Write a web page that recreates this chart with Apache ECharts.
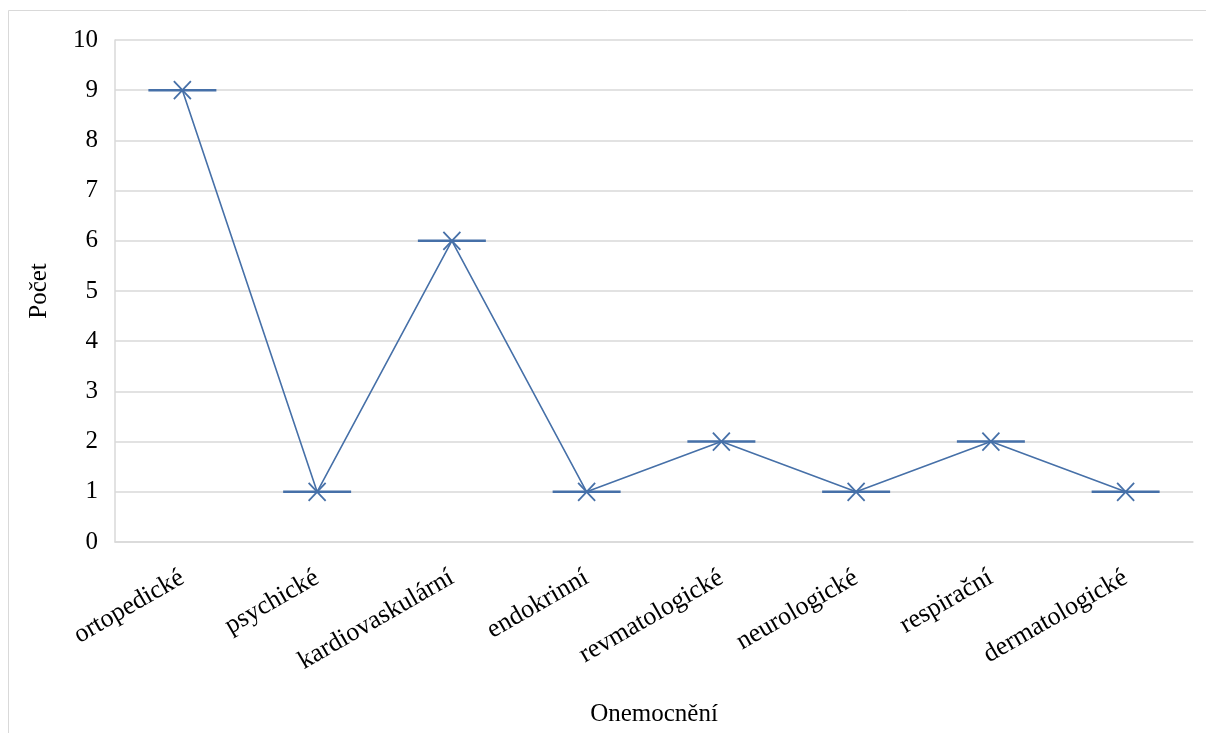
<!DOCTYPE html>
<html>
<head>
<meta charset="utf-8">
<script src="https://cdn.jsdelivr.net/npm/echarts@6/dist/echarts.min.js"></script>
<style>
  html, body { margin: 0; padding: 0; background: #fff; }
  #chart { width: 1206px; height: 733px; }
</style>
</head>
<body>
<div id="chart"></div>
<script>
// Počty onemocnění podle kategorie
const categories = ['ortopedické', 'psychické', 'kardiovaskulární', 'endokrinní',
                    'revmatologické', 'neurologické', 'respirační', 'dermatologické'];
const counts = [9, 1, 6, 1, 2, 1, 2, 1];
const yTicks = { min: 0, max: 10, interval: 1 };

const lineBlue = '#4670a8';
const gridGray = '#d9d9d9';
const font = '"Liberation Serif", "Times New Roman", serif';

const chart = echarts.init(document.getElementById('chart'), null, { renderer: 'canvas' });

// Značka bodu: vodorovná čárka přes křížek
function renderMarker(params, api) {
  const p = api.coord([api.value(0), api.value(1)]);
  const x = p[0], y = p[1];
  const half = 34, cx = 8.5, cy = 9;
  return {
    type: 'group',
    children: [
      { type: 'line', shape: { x1: x - half, y1: y, x2: x + half, y2: y },
        style: { stroke: lineBlue, lineWidth: 2.5 } },
      { type: 'line', shape: { x1: x - cx, y1: y - cy, x2: x + cx, y2: y + cy },
        style: { stroke: lineBlue, lineWidth: 1.8 } },
      { type: 'line', shape: { x1: x + cx, y1: y - cy, x2: x - cx, y2: y + cy },
        style: { stroke: lineBlue, lineWidth: 1.8 } }
    ]
  };
}

chart.setOption({
  animation: false,
  backgroundColor: '#fff',
  graphic: [{
    type: 'rect',
    shape: { x: 8.5, y: 10.5, width: 1220, height: 760 },
    style: { fill: 'none', stroke: gridGray, lineWidth: 1 },
    silent: true
  }],
  grid: { left: 115, right: 13, top: 40, bottom: 191, containLabel: false },
  xAxis: {
    type: 'category',
    data: categories,
    boundaryGap: true,
    name: 'Onemocnění',
    nameLocation: 'middle',
    nameGap: 160,
    nameTextStyle: { fontFamily: font, fontSize: 25, color: '#000' },
    axisLine: { show: true, lineStyle: { color: gridGray, width: 1.5 } },
    axisTick: { show: false },
    axisLabel: {
      rotate: 30,
      interval: 0,
      margin: 34,
      fontFamily: font,
      fontSize: 26,
      color: '#000'
    },
    splitLine: { show: false }
  },
  yAxis: {
    type: 'value',
    min: yTicks.min,
    max: yTicks.max,
    interval: yTicks.interval,
    name: 'Počet',
    nameLocation: 'middle',
    nameGap: 63,
    nameRotate: 90,
    nameTextStyle: { fontFamily: font, fontSize: 25, color: '#000' },
    axisLine: { show: true, lineStyle: { color: gridGray, width: 1.5 } },
    axisTick: { show: false },
    axisLabel: {
      margin: 17,
      fontFamily: font,
      fontSize: 25,
      color: '#000'
    },
    splitLine: { show: true, lineStyle: { color: gridGray, width: 1.5 } }
  },
  series: [{
    type: 'line',
    data: counts,
    symbol: 'none',
    lineStyle: { color: lineBlue, width: 1.6 },
    z: 3
  }, {
    type: 'custom',
    data: counts.map((v, i) => [i, v]),
    renderItem: renderMarker,
    z: 4
  }]
});
</script>
</body>
</html>
